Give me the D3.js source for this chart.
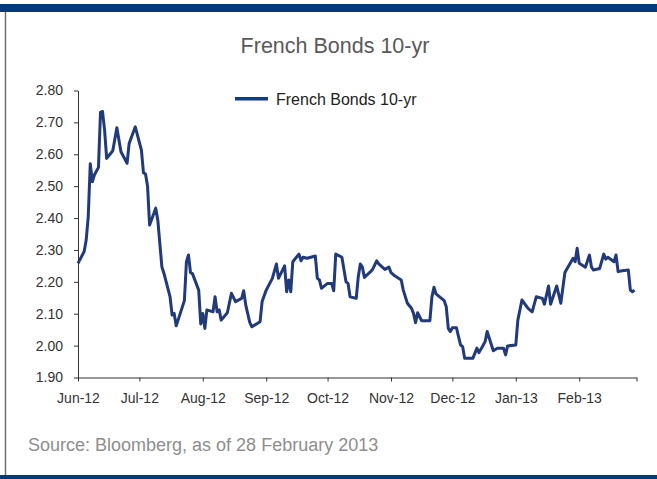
<!DOCTYPE html>
<html>
<head>
<meta charset="utf-8">
<script src="https://cdn.jsdelivr.net/npm/d3@7"></script>
<style>
  html, body { margin: 0; padding: 0; background: #fff; }
  svg { display: block; font-family: "Liberation Sans", Arial, Helvetica, sans-serif; }
</style>
</head>
<body>
<svg id="chart" width="657" height="479"></svg>
<script>
// French 10-year government bond yield (%), daily closes Jun 2012 - Feb 2013
const dates = [
  "2012-06-01","2012-06-04","2012-06-05","2012-06-06","2012-06-07","2012-06-08","2012-06-09",
  "2012-06-11","2012-06-12","2012-06-13","2012-06-14","2012-06-15","2012-06-18","2012-06-20",
  "2012-06-22","2012-06-25","2012-06-26","2012-06-29","2012-07-02","2012-07-03","2012-07-04",
  "2012-07-05","2012-07-06","2012-07-09","2012-07-10","2012-07-12","2012-07-13","2012-07-16",
  "2012-07-17","2012-07-18","2012-07-19","2012-07-23","2012-07-24","2012-07-25","2012-07-26",
  "2012-07-27","2012-07-30","2012-07-31","2012-08-01","2012-08-02","2012-08-03","2012-08-06",
  "2012-08-07","2012-08-08","2012-08-09","2012-08-10","2012-08-13","2012-08-15","2012-08-17",
  "2012-08-20","2012-08-21","2012-08-22","2012-08-24","2012-08-25","2012-08-29","2012-08-30",
  "2012-08-31","2012-09-01","2012-09-04","2012-09-06","2012-09-07","2012-09-10","2012-09-11",
  "2012-09-12","2012-09-13","2012-09-14","2012-09-17","2012-09-18","2012-09-19","2012-09-21",
  "2012-09-25","2012-09-26","2012-09-27","2012-09-28","2012-10-01","2012-10-03","2012-10-04",
  "2012-10-05","2012-10-08","2012-10-10","2012-10-11","2012-10-12","2012-10-15","2012-10-16",
  "2012-10-17","2012-10-18","2012-10-19","2012-10-22","2012-10-23","2012-10-25","2012-10-26",
  "2012-10-29","2012-10-31","2012-11-01","2012-11-03","2012-11-06","2012-11-07","2012-11-09",
  "2012-11-11","2012-11-12","2012-11-13","2012-11-14","2012-11-16","2012-11-20","2012-11-21",
  "2012-11-22","2012-11-23","2012-11-27","2012-11-28","2012-11-29","2012-11-30","2012-12-01",
  "2012-12-03","2012-12-04","2012-12-05","2012-12-06","2012-12-07","2012-12-11","2012-12-13",
  "2012-12-14","2012-12-17","2012-12-18","2012-12-21","2012-12-23","2012-12-26","2012-12-27",
  "2012-12-28","2013-01-01","2013-01-02","2013-01-04","2013-01-07","2013-01-09","2013-01-11",
  "2013-01-14","2013-01-15","2013-01-17","2013-01-18","2013-01-21","2013-01-23","2013-01-25",
  "2013-01-28","2013-01-29","2013-01-30","2013-01-31","2013-02-01","2013-02-04","2013-02-06",
  "2013-02-07","2013-02-08","2013-02-11","2013-02-13","2013-02-14","2013-02-15","2013-02-18",
  "2013-02-19","2013-02-20","2013-02-22","2013-02-25","2013-02-26","2013-02-27","2013-02-28"
];
const yields = [
  2.258,2.295,2.331,2.404,2.570,2.514,2.535,
  2.559,2.732,2.734,2.676,2.587,2.611,2.683,
  2.608,2.572,2.634,2.686,2.613,2.542,2.538,
  2.500,2.378,2.431,2.394,2.247,2.227,2.153,
  2.096,2.101,2.062,2.141,2.263,2.284,2.229,
  2.225,2.174,2.068,2.101,2.054,2.112,2.106,
  2.153,2.106,2.112,2.080,2.103,2.164,2.138,
  2.148,2.172,2.127,2.072,2.059,2.075,2.138,
  2.156,2.174,2.211,2.256,2.211,2.250,2.169,
  2.206,2.169,2.263,2.287,2.266,2.277,2.274,
  2.281,2.211,2.206,2.180,2.195,2.195,2.172,
  2.287,2.277,2.200,2.195,2.153,2.148,2.216,
  2.256,2.246,2.214,2.232,2.239,2.266,2.256,
  2.239,2.246,2.229,2.218,2.206,2.174,2.133,
  2.117,2.101,2.072,2.103,2.078,2.078,2.153,
  2.183,2.162,2.141,2.122,2.054,2.044,2.056,
  2.056,2.028,2.002,1.997,1.960,1.960,1.992,
  1.978,2.012,2.044,1.984,1.992,1.992,1.971,
  1.999,2.002,2.080,2.143,2.117,2.106,2.153,
  2.148,2.130,2.187,2.130,2.187,2.133,2.229,
  2.263,2.274,2.263,2.305,2.258,2.246,2.284,
  2.246,2.237,2.242,2.287,2.271,2.277,2.263,
  2.284,2.232,2.235,2.237,2.174,2.169,2.174
];

// Axis ticks
const monthTicks = ["2012-06-01","2012-07-01","2012-08-01","2012-09-01","2012-10-01",
                    "2012-11-01","2012-12-01","2013-01-01","2013-02-01","2013-03-01"];
const monthLabels = ["Jun-12","Jul-12","Aug-12","Sep-12","Oct-12","Nov-12","Dec-12","Jan-13","Feb-13"];
const yTicks = [1.9, 2.0, 2.1, 2.2, 2.3, 2.4, 2.5, 2.6, 2.7, 2.8];

const seriesName = "French Bonds 10-yr";
const titleText = "French Bonds 10-yr";
const sourceText = "Source: Bloomberg, as of 28 February 2013";

const parse = d3.timeParse("%Y-%m-%d");
const data = dates.map((d, i) => ({ date: parse(d), value: yields[i] }));
const tickDates = monthTicks.map(parse);

const W = 657, H = 479;
const plot = { left: 78, right: 636.5, top: 90.5, bottom: 377.5 };
const navy = "#003a7d";
const lineColor = "#213a7a";

const svg = d3.select("#chart");

// Frame: top and bottom bands, left rule
svg.append("rect").attr("x", 0).attr("y", 4).attr("width", W).attr("height", 8).attr("fill", navy);
svg.append("rect").attr("x", 0).attr("y", 475).attr("width", W).attr("height", 4).attr("fill", navy);
svg.append("line").attr("x1", 5.5).attr("x2", 5.5).attr("y1", 12).attr("y2", 475)
  .attr("stroke", "#6f6f6f").attr("stroke-width", 1.5);

// Title
svg.append("text").attr("x", 335).attr("y", 53.3).attr("text-anchor", "middle")
  .attr("font-size", 21.5).attr("fill", "#5a5a5a").text(titleText);

// Scales
const x = d3.scaleTime()
  .domain([tickDates[0], tickDates[tickDates.length - 1]])
  .range([plot.left, plot.right]);
const y = d3.scaleLinear()
  .domain([1.9, 2.8])
  .range([plot.bottom, plot.top]);

// Y axis
const yAxis = svg.append("g")
  .attr("transform", `translate(${plot.left},0)`)
  .call(d3.axisLeft(y).tickValues(yTicks).tickFormat(d3.format(".2f"))
    .tickSize(4).tickSizeOuter(0).tickPadding(11));
yAxis.selectAll("text").attr("font-size", 14).attr("fill", "#333").attr("font-family", null);
yAxis.selectAll("line, path").attr("stroke", "#333");

// X axis
const xAxis = svg.append("g")
  .attr("transform", `translate(0,${plot.bottom})`)
  .call(d3.axisBottom(x).tickValues(tickDates)
    .tickFormat((d, i) => monthLabels[i] || "")
    .tickSize(4).tickSizeOuter(0).tickPadding(12));
xAxis.selectAll("text").attr("font-size", 14).attr("fill", "#333").attr("font-family", null);
xAxis.selectAll("line, path").attr("stroke", "#333");

// Series line
const line = d3.line().x(d => x(d.date)).y(d => y(d.value));
svg.append("path").datum(data)
  .attr("d", line)
  .attr("fill", "none")
  .attr("stroke", lineColor)
  .attr("stroke-width", 3)
  .attr("stroke-linejoin", "round");

// Legend
const legend = svg.append("g");
legend.append("line").attr("x1", 235).attr("x2", 268).attr("y1", 98.7).attr("y2", 98.7)
  .attr("stroke", "#0f3a85").attr("stroke-width", 3.5);
legend.append("text").attr("x", 276).attr("y", 105).attr("font-size", 16)
  .attr("fill", "#222").text(seriesName);

// Source note
svg.append("text").attr("x", 28).attr("y", 451).attr("font-size", 18)
  .attr("fill", "#8e8e8e").text(sourceText);
</script>
</body>
</html>
